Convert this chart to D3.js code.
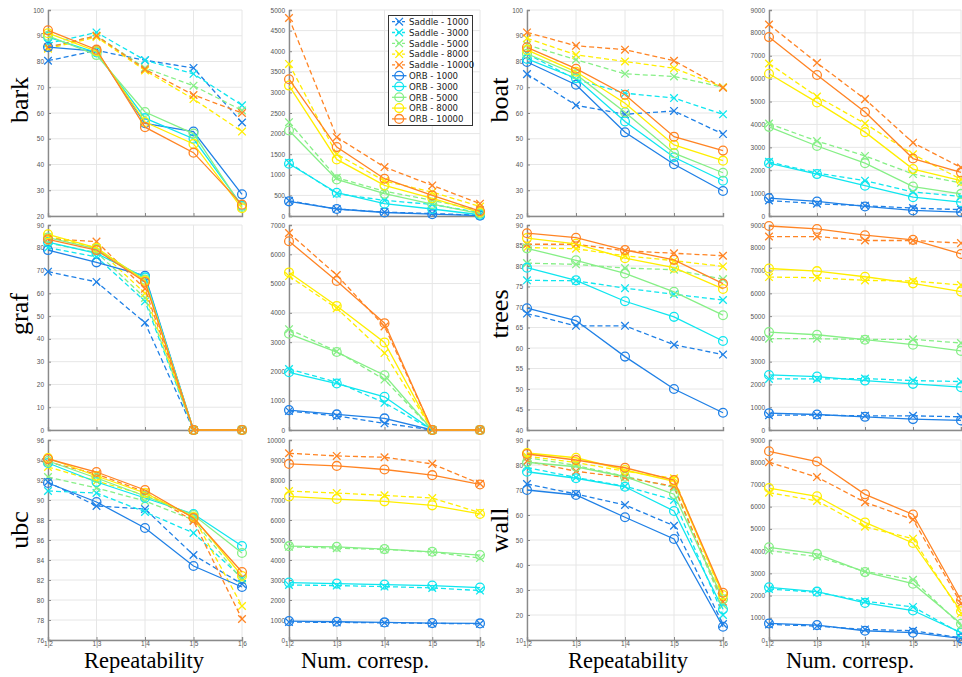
<!DOCTYPE html>
<html><head><meta charset="utf-8">
<script src="https://cdn.jsdelivr.net/npm/d3@7"></script>
<style>
html,body{margin:0;padding:0;background:#fff;}
svg{display:block;}
</style></head>
<body>
<svg id="chart" width="962" height="677"></svg>
<script>
// ---------------- DATA ----------------
const xTickLabels = ["1|2","1|3","1|4","1|5","1|6"];
const detectorSizes = ["1000","3000","5000","8000","10000"];
const methods = ["Saddle","ORB"];
const seriesColors = ["#1f80e6","#0fe6ef","#86ef86","#ffee00","#ff8424"];

const repTicks100 = [20,30,40,50,60,70,80,90,100];
const barkNumTicks = [0,500,1000,1500,2000,2500,3000,3500,4000,4500,5000];
const grafRepTicks = [0,10,20,30,40,50,60,70,80,90];
const grafNumTicks = [0,1000,2000,3000,4000,5000,6000,7000];
const ubcRepTicks = [76,78,80,82,84,86,88,90,92,94,96];
const ubcNumTicks = [0,1000,2000,3000,4000,5000,6000,7000,8000,9000,10000];
const numTicks9000 = [0,1000,2000,3000,4000,5000,6000,7000,8000,9000];
const treesRepTicks = [40,45,50,55,60,65,70,75,80,85,90];
const wallRepTicks = [10,20,30,40,50,60,70,80,90];

// each array: rows = 1000,3000,5000,8000,10000 ; columns = 1|2..1|6
const barkRepSaddle = [[80.3,84.3,80.5,77.5,56.3],[87,91.3,80.5,75.2,63],[85.5,90,77.5,70.6,61],[85,89.5,76.5,65.4,52.8],[85.5,90,77,67,60]];
const barkRepOrb    = [[85.6,84,56,52.8,28.4],[89.5,83.5,58,50,24],[90,82.5,60.4,52,23.5],[91,84,56.5,48,23],[92.1,84.6,54.5,44.6,24.4]];
const barkNumSaddle = [[370,170,95,60,20],[1292,541,380,280,80],[2278,930,600,380,140],[3691,1500,850,580,230],[4806,1914,1187,743,299]];
const barkNumOrb    = [[355,170,85,45,10],[1268,565,299,170,30],[2076,888,541,290,60],[3166,1373,743,430,90],[3320,1672,905,500,120]];

const boatRepSaddle = [[75.1,63,59.5,60.8,51.8],[83,73,67.7,65.8,59.5],[86.5,80.7,75.2,74.2,70],[89,82.6,80,77.4,70],[91.3,86.1,84.6,80.3,69.8]];
const boatRepOrb    = [[79.8,71,52.5,40.1,29.7],[81,73.5,56.7,42.8,33.7],[83,75,60.3,44.4,36.8],[84.5,76,63.8,47.6,41.5],[85.5,77.2,67.1,50.8,45.4]];
const boatNumSaddle = [[678,534,450,346,280],[2365,1875,1543,1050,850],[4038,3274,2625,1832,1450],[6663,5221,4038,2697,1600],[8365,6692,5106,3202,2120]];
const boatNumOrb    = [[779,635,418,245,173],[2308,1832,1327,822,606],[3894,3058,2308,1284,966],[6216,4962,3663,2048,1543],[7817,6159,4543,2510,1904]];

const grafRepSaddle = [[69.5,65,47.1,0,0],[80,76,56.5,0,0],[82,78,58,0,0],[85,80,60,0,0],[84,82.7,62,0,0]];
const grafRepOrb    = [[79,73.6,67.7,0,0],[82.5,77.5,67,0,0],[84.5,79.5,66,0,0],[85.9,80,65.5,0,0],[83.7,79,65,0,0]];
const grafNumSaddle = [[650,480,227,0,0],[2084,1631,929,0,0],[3443,2684,1722,0,0],[5256,4157,2628,0,0],[6728,5290,3534,0,0]];
const grafNumOrb    = [[680,532,396,0,0],[1971,1586,1133,0,0],[3285,2662,1869,0,0],[5380,4236,2990,0,0],[6445,5086,3647,0,0]];

const treesRepSaddle = [[68.4,65.4,65.4,60.8,58.4],[76.5,76.4,74.6,73.1,71.7],[80.7,80.4,79.5,79.1,76.8],[84.5,84.2,82.5,81.3,79.9],[85.3,85.3,83.7,83.1,82.5]];
const treesRepOrb    = [[69.7,66.7,57.9,50,44.2],[79.6,76.5,71.4,67.6,61.7],[84.3,81.4,78.2,73.7,68],[86.8,85.4,81.9,79.6,74.4],[88,86.9,83.9,81.5,75.7]];
const treesNumSaddle = [[651,651,622,622,579],[2243,2243,2257,2170,2127],[4008,4008,3979,3979,3820],[6714,6685,6569,6540,6367],[8494,8494,8320,8320,8204]];
const treesNumOrb    = [[738,680,579,478,420],[2416,2344,2170,2026,1881],[4297,4182,3965,3748,3473],[7090,6974,6728,6439,6077],[8957,8826,8552,8349,7727]];

const ubcRepSaddle = [[91.8,89.4,89.1,84.5,81.6],[90.9,90.7,88.8,86.7,82.2],[92.3,91.2,89.9,88.0,82],[93.3,91.9,90.5,88.3,79.4],[93.8,92.6,90.8,87.9,78.1]];
const ubcRepOrb    = [[91.7,89.8,87.2,83.4,81.3],[93.7,91.8,90.2,88.6,85.4],[93.9,92.2,90.4,88.5,84.7],[94.2,92.4,90.7,88.3,82.4],[94.1,92.8,91,88.2,82.8]];
const ubcNumSaddle = [[896,880,860,830,810],[2753,2720,2670,2604,2471],[4660,4594,4527,4395,4096],[7446,7347,7231,7098,6368],[9337,9204,9138,8806,7811]];
const ubcNumOrb    = [[945,912,879,846,829],[2869,2819,2769,2720,2620],[4693,4660,4544,4411,4245],[7181,7048,6932,6733,6302],[8806,8706,8524,8242,7778]];

const wallRepSaddle = [[72.4,68.4,64,55.7,16.4],[79,75,71.5,66,20],[83,79.8,75.5,71,24],[83.5,81,77.5,74.7,27],[81.5,77.5,75,71.5,25.3]];
const wallRepOrb    = [[70,68,59.1,50.4,15.3],[77.3,74.7,71.3,61.6,22.3],[81.1,79.3,75.3,68.3,26.3],[84.8,82.9,78,73.5,28],[84.4,82,78.9,74,28.9]];
const wallNumSaddle = [[700,626,477,417,100],[2295,2146,1743,1490,300],[4023,3755,3084,2712,650],[6631,6258,5096,4560,1200],[8002,7331,6199,5424,1650]];
const wallNumOrb    = [[745,670,417,328,75],[2369,2175,1669,1326,328],[4172,3874,3055,2533,730],[6839,6467,5290,4366,1296],[8493,8031,6556,5647,1788]];

const rowNames = [["bark","boat"],["graf","trees"],["ubc","wall"]];
const xAxisTitles = ["Repeatability","Num. corresp.","Repeatability","Num. corresp."];

// ---------------- LAYOUT ----------------
const colX = [[48,242],[289,480],[527,723],[769,961]];
const rowY = [[10,216],[225,430],[440,640]];
const rowLabelY = [100,314,530];
const rowLabelX = [28,508];
const xTitleX = [144,365,628,850];

const panels = [
  {c:0,r:0,s:barkRepSaddle,o:barkRepOrb,t:repTicks100},
  {c:1,r:0,s:barkNumSaddle,o:barkNumOrb,t:barkNumTicks},
  {c:2,r:0,s:boatRepSaddle,o:boatRepOrb,t:repTicks100},
  {c:3,r:0,s:boatNumSaddle,o:boatNumOrb,t:numTicks9000},
  {c:0,r:1,s:grafRepSaddle,o:grafRepOrb,t:grafRepTicks},
  {c:1,r:1,s:grafNumSaddle,o:grafNumOrb,t:grafNumTicks},
  {c:2,r:1,s:treesRepSaddle,o:treesRepOrb,t:treesRepTicks},
  {c:3,r:1,s:treesNumSaddle,o:treesNumOrb,t:numTicks9000},
  {c:0,r:2,s:ubcRepSaddle,o:ubcRepOrb,t:ubcRepTicks},
  {c:1,r:2,s:ubcNumSaddle,o:ubcNumOrb,t:ubcNumTicks},
  {c:2,r:2,s:wallRepSaddle,o:wallRepOrb,t:wallRepTicks},
  {c:3,r:2,s:wallNumSaddle,o:wallNumOrb,t:numTicks9000}
];

const svg = d3.select("#chart");
const tickFont = "'Liberation Sans', Arial, sans-serif";
const serif = "'Liberation Serif', 'Times New Roman', serif";

function drawMarker(g, kind, x, y, color){
  if(kind==="x"){
    const h=3.8;
    g.append("path").attr("d",`M${x-h},${y-h}L${x+h},${y+h}M${x-h},${y+h}L${x+h},${y-h}`)
      .attr("stroke",color).attr("stroke-width",1.3).attr("fill","none");
  } else {
    g.append("circle").attr("cx",x).attr("cy",y).attr("r",4.4)
      .attr("stroke",color).attr("stroke-width",1.3).attr("fill","none");
  }
}

panels.forEach(p=>{
  const [x0,x1] = colX[p.c];
  const [y0,y1] = rowY[p.r];
  const x = d3.scalePoint().domain(xTickLabels).range([x0,x1]);
  const y = d3.scaleLinear().domain(d3.extent(p.t)).range([y1,y0]);
  const g = svg.append("g");

  // grid
  g.append("g").selectAll("line").data(p.t).join("line")
    .attr("x1",x0).attr("x2",x1).attr("y1",d=>y(d)).attr("y2",d=>y(d))
    .attr("stroke","#e6e6e6").attr("stroke-width",1);
  g.append("g").selectAll("line").data(xTickLabels).join("line")
    .attr("x1",d=>x(d)).attr("x2",d=>x(d)).attr("y1",y0).attr("y2",y1)
    .attr("stroke","#e6e6e6").attr("stroke-width",1);

  // y axis
  const ya = g.append("g").attr("transform",`translate(${x0},0)`)
    .call(d3.axisLeft(y).tickValues(p.t).tickSize(-3).tickPadding(4).tickFormat(d3.format("d")));
  ya.select(".domain").attr("stroke","#8a8a8a").attr("stroke-width",1.4);
  ya.selectAll(".tick line").attr("stroke","#8a8a8a");
  ya.selectAll("text").attr("font-family",tickFont).attr("font-size",6.5).attr("fill","#555");

  // x axis
  const xa = g.append("g").attr("transform",`translate(0,${y1})`)
    .call(d3.axisBottom(x).tickSize(-3).tickPadding(1).tickFormat(p.r===2 ? (d=>d) : ""));
  xa.select(".domain").attr("stroke","#8a8a8a").attr("stroke-width",1.4);
  xa.selectAll(".tick line").attr("stroke","#8a8a8a");
  xa.selectAll("text").attr("font-family",tickFont).attr("font-size",6.5).attr("fill","#555");
  if(p.c===3) xa.selectAll("text").filter(d=>d===xTickLabels[xTickLabels.length-1]).attr("text-anchor","end");

  const line = d3.line().x((d,i)=>x(xTickLabels[i])).y(d=>y(d));
  [[p.s,"x","5,3"],[p.o,"o",null]].forEach(([set,kind,dash])=>{
    set.forEach((vals,k)=>{
      const col = seriesColors[k];
      const path = g.append("path").datum(vals).attr("d",line)
        .attr("fill","none").attr("stroke",col).attr("stroke-width",1.3);
      if(dash) path.attr("stroke-dasharray",dash);
      vals.forEach((v,i)=>drawMarker(g,kind,x(xTickLabels[i]),y(v),col));
    });
  });
});

// row labels
rowNames.forEach((names,r)=>{
  names.forEach((n,j)=>{
    svg.append("text").text(n)
      .attr("transform",`translate(${rowLabelX[j]},${rowLabelY[r]}) rotate(-90)`)
      .attr("text-anchor","middle").attr("font-family",serif).attr("font-size",26).attr("fill","#000");
  });
});

// x titles
xAxisTitles.forEach((t,c)=>{
  svg.append("text").text(t).attr("x",xTitleX[c]).attr("y",668)
    .attr("text-anchor","middle").attr("font-family",serif).attr("font-size",22.5).attr("fill","#000");
});

// legend
const lg = svg.append("g");
lg.append("rect").attr("x",388.5).attr("y",15.5).attr("width",84).attr("height",110)
  .attr("fill","#fff").attr("stroke","#333").attr("stroke-width",1);
let idx=0;
methods.forEach(m=>{
  detectorSizes.forEach((s,k)=>{
    const yy = 21.7 + idx*10.8;
    const col = seriesColors[k];
    const l = lg.append("line").attr("x1",392).attr("x2",406.5).attr("y1",yy).attr("y2",yy)
      .attr("stroke",col).attr("stroke-width",1.3);
    if(m==="Saddle") l.attr("stroke-dasharray","3,2");
    drawMarker(lg, m==="Saddle"?"x":"o", 399.2, yy, col);
    lg.append("text").text(`${m} - ${s}`).attr("x",409).attr("y",yy+3.2)
      .attr("font-family","'DejaVu Sans', sans-serif").attr("font-size",8.6).attr("fill","#222");
    idx++;
  });
});
</script>
</body></html>
